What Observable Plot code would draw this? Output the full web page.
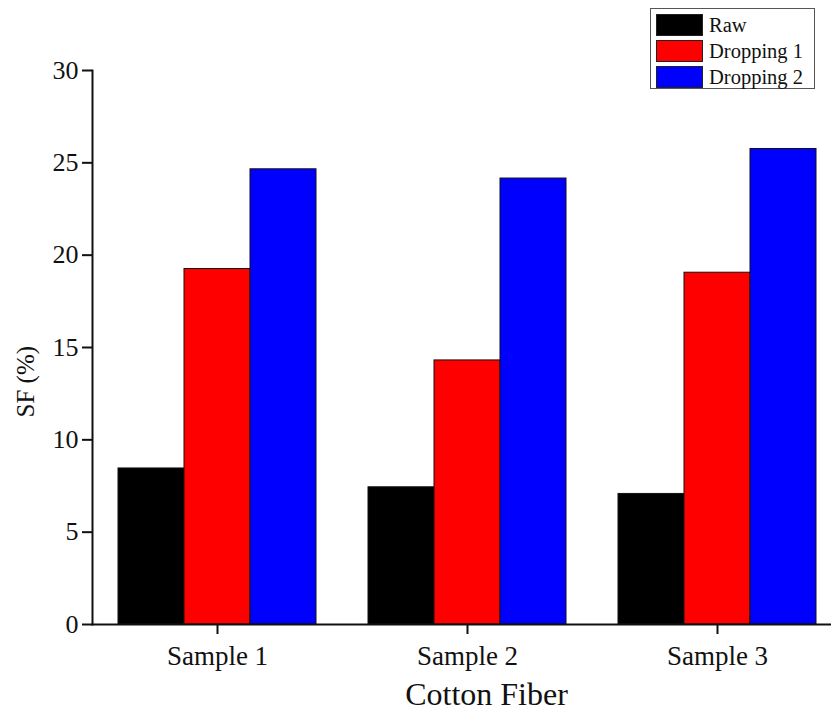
<!DOCTYPE html>
<html>
<head>
<meta charset="utf-8">
<script src="https://cdn.jsdelivr.net/npm/d3@7"></script>
<script src="https://cdn.jsdelivr.net/npm/@observablehq/plot@0.6"></script>
<style>
  html, body { margin: 0; padding: 0; background: #fff; }
  #wrap { position: relative; width: 831px; height: 710px; overflow: hidden; font-family: "Liberation Serif", "Times New Roman", serif; }
  #legend { position: absolute; left: 650px; top: 8px; width: 165px; height: 81px; border: 1px solid #555; background: #fff; box-sizing: border-box; padding: 3px 0 0 5px; }
  .row { display: flex; align-items: center; height: 26px; }
  .sw { width: 47px; height: 22px; border: 1px solid #222; box-sizing: border-box; margin-right: 6px; }
  .lab { font-size: 20.5px; color: #111; line-height: 22px; }
</style>
</head>
<body>
<div id="wrap"></div>
<script>
const samples = ["Sample 1", "Sample 2", "Sample 3"];
const series = ["Raw", "Dropping 1", "Dropping 2"];
const colors = ["#000000", "#ff0000", "#0000ff"];
const raw = [8.45, 7.43, 7.07];
const dropping1 = [19.25, 14.3, 19.05];
const dropping2 = [24.65, 24.15, 25.75];
const yTicks = [0, 5, 10, 15, 20, 25, 30];

const valuesBySeries = [raw, dropping1, dropping2];
const data = [];
samples.forEach((s, i) => {
  series.forEach((k, j) => data.push({sample: s, series: k, value: valuesBySeries[j][i]}));
});

const font = "'Liberation Serif', 'Times New Roman', serif";

const chart = Plot.plot({
  width: 831,
  height: 710,
  marginLeft: 92,
  marginRight: -11,
  marginTop: 70,
  marginBottom: 86,
  style: {fontFamily: font, fontSize: "26px", color: "#111", background: "#fff"},
  fx: {domain: samples, padding: 0, label: null},
  x: {domain: series, paddingInner: 0, paddingOuter: 0.375, axis: null},
  y: {domain: [0, 30], label: null},
  color: {domain: series, range: colors},
  marks: [
    Plot.barY(data, {fx: "sample", x: "series", y: "value", fill: "series", stroke: "#111", strokeWidth: 1}),
    Plot.axisFx({anchor: "bottom", tickSize: 10, tickPadding: 11, fontSize: 27, strokeWidth: 2, label: null}),
    Plot.axisY({ticks: yTicks, tickSize: 10, tickPadding: 4, fontSize: 26, strokeWidth: 2, label: null}),
    Plot.frame({anchor: "bottom", stroke: "#111", strokeWidth: 2, facet: "super"}),
    Plot.frame({anchor: "left", stroke: "#111", strokeWidth: 2, facet: "super"}),
    Plot.text(["SF (%)"], {frameAnchor: "left", rotate: -90, dx: -67, dy: 70, fontSize: 25, fill: "#111", facet: "super"}),
    Plot.text(["Cotton Fiber"], {frameAnchor: "bottom", dx: 19, dy: 80, fontSize: 32, fill: "#111", facet: "super"})
  ]
});
const wrap = document.getElementById("wrap");
wrap.appendChild(chart);

const legend = document.createElement("div");
legend.id = "legend";
series.forEach((k, j) => {
  const row = document.createElement("div");
  row.className = "row";
  const sw = document.createElement("div");
  sw.className = "sw";
  sw.style.background = colors[j];
  const lab = document.createElement("span");
  lab.className = "lab";
  lab.textContent = k;
  row.appendChild(sw);
  row.appendChild(lab);
  legend.appendChild(row);
});
wrap.appendChild(legend);
</script>
</body>
</html>
